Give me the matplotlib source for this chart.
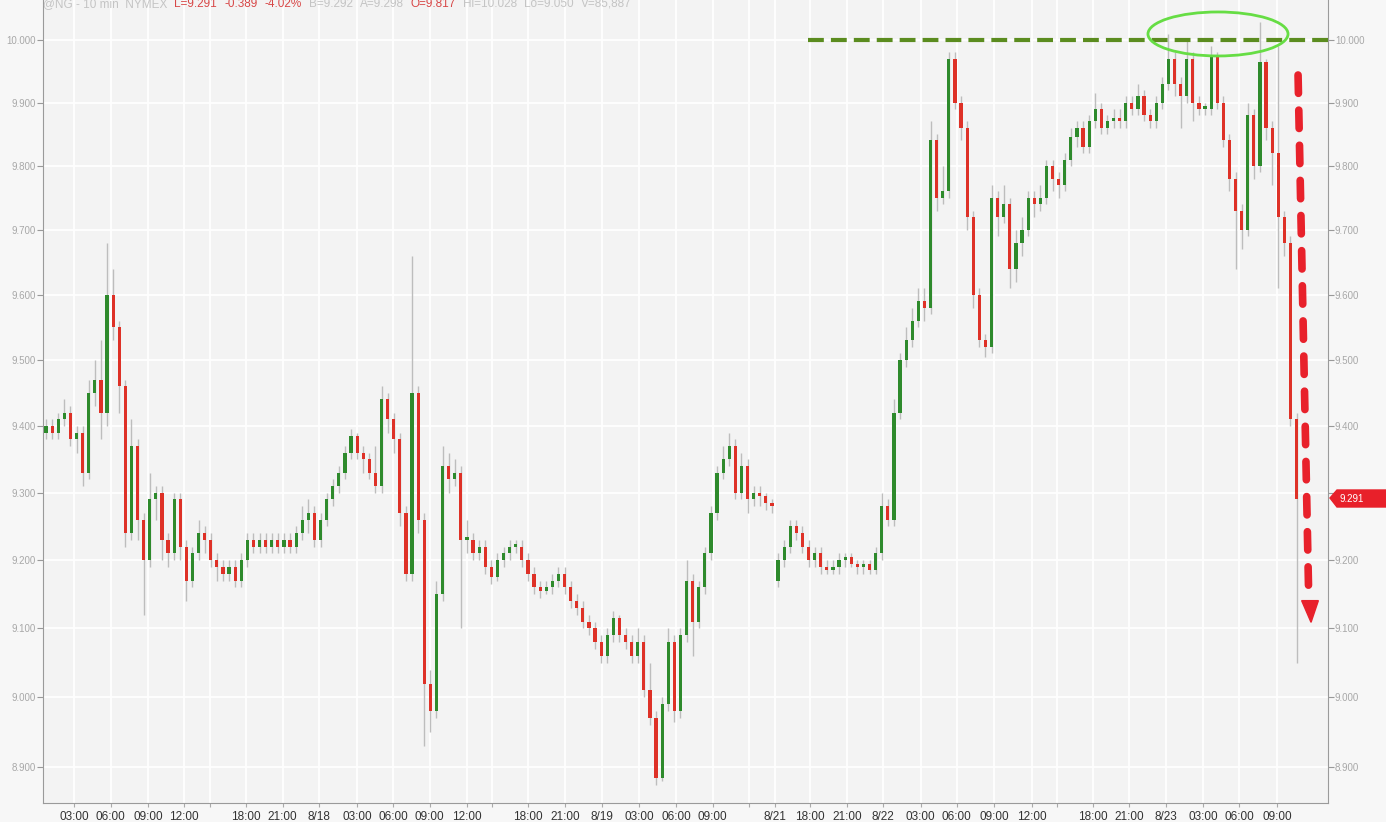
import matplotlib.pyplot as plt
import numpy as np
from matplotlib.patches import Ellipse, Polygon
from matplotlib.ticker import NullLocator, NullFormatter

plt.rcParams['font.family'] = ['Liberation Sans', 'DejaVu Sans']

# 30-min bars of @NG (10-min chart resampled by eye), 8/17 -> 8/23
closes = [9.40, 9.39, 9.41, 9.42, 9.38, 9.39, 9.33, 9.45, 9.47, 9.42,
          9.60, 9.55, 9.46, 9.24, 9.37, 9.26, 9.20, 9.29, 9.30, 9.23,
          9.21, 9.29, 9.22, 9.17, 9.21, 9.24, 9.23, 9.20, 9.19, 9.18,
          9.19, 9.17, 9.20, 9.23, 9.22, 9.23, 9.22, 9.23, 9.22, 9.23,
          9.22, 9.24, 9.26, 9.27, 9.23, 9.26, 9.29, 9.31, 9.33, 9.36,
          9.385, 9.36, 9.35, 9.33, 9.31, 9.44, 9.41, 9.38, 9.27, 9.18,
          9.45, 9.26, 9.02, 8.98, 9.15, 9.34, 9.32, 9.33, 9.23, 9.23,
          9.21, 9.22, 9.19, 9.175, 9.20, 9.21, 9.22, 9.22, 9.20, 9.18,
          9.16, 9.155, 9.16, 9.17, 9.18, 9.16, 9.14, 9.13, 9.11, 9.10,
          9.08, 9.06, 9.09, 9.115, 9.09, 9.08, 9.06, 9.08, 9.01, 8.97,
          8.885, 8.99, 9.08, 8.98, 9.09, 9.17, 9.11, 9.16, 9.21, 9.27,
          9.33, 9.35, 9.37, 9.30, 9.34, 9.29, 9.30, 9.295, 9.285, 9.28,
          9.20, 9.22, 9.25, 9.24, 9.22, 9.20, 9.21, 9.19, 9.185, 9.19,
          9.20, 9.205, 9.195, 9.19, 9.195, 9.185, 9.21, 9.28, 9.26, 9.42,
          9.50, 9.53, 9.56, 9.59, 9.58, 9.84, 9.75, 9.76, 9.97, 9.90,
          9.86, 9.72, 9.60, 9.53, 9.52, 9.75, 9.72, 9.74, 9.64, 9.68,
          9.70, 9.75, 9.74, 9.75, 9.80, 9.78, 9.77, 9.81, 9.845, 9.86,
          9.83, 9.87, 9.89, 9.86, 9.87, 9.875, 9.87, 9.90, 9.89, 9.91,
          9.88, 9.87, 9.90, 9.93, 9.97, 9.93, 9.91, 9.97, 9.90, 9.89,
          9.89, 9.975, 9.90, 9.84, 9.78, 9.73, 9.70, 9.88, 9.80, 9.965,
          9.86, 9.82, 9.72, 9.68, 9.41, 9.291]
highs = [9.41, 9.41, 9.42, 9.44, 9.43, 9.40, 9.40, 9.47, 9.50, 9.53,
         9.68, 9.64, 9.56, 9.47, 9.41, 9.38, 9.27, 9.33, 9.31, 9.31,
         9.24, 9.30, 9.30, 9.23, 9.22, 9.26, 9.25, 9.24, 9.21, 9.20,
         9.20, 9.20, 9.21, 9.24, 9.24, 9.24, 9.24, 9.24, 9.24, 9.24,
         9.24, 9.25, 9.28, 9.29, 9.28, 9.27, 9.30, 9.32, 9.34, 9.37,
         9.395, 9.39, 9.37, 9.36, 9.37, 9.46, 9.45, 9.42, 9.39, 9.28,
         9.66, 9.46, 9.27, 9.04, 9.17, 9.37, 9.36, 9.35, 9.34, 9.26,
         9.24, 9.23, 9.23, 9.20, 9.21, 9.22, 9.23, 9.23, 9.23, 9.21,
         9.19, 9.17, 9.17, 9.18, 9.19, 9.19, 9.17, 9.15, 9.14, 9.12,
         9.11, 9.09, 9.10, 9.125, 9.12, 9.10, 9.09, 9.10, 9.09, 9.05,
         8.98, 9.00, 9.10, 9.09, 9.10, 9.20, 9.18, 9.17, 9.22, 9.28,
         9.34, 9.37, 9.39, 9.38, 9.36, 9.35, 9.31, 9.31, 9.30, 9.29,
         9.21, 9.23, 9.26, 9.26, 9.25, 9.23, 9.22, 9.22, 9.20, 9.20,
         9.21, 9.21, 9.21, 9.20, 9.20, 9.20, 9.22, 9.30, 9.29, 9.44,
         9.51, 9.55, 9.58, 9.61, 9.61, 9.87, 9.85, 9.80, 9.98, 9.98,
         9.91, 9.87, 9.73, 9.61, 9.54, 9.77, 9.76, 9.77, 9.75, 9.70,
         9.72, 9.76, 9.76, 9.77, 9.81, 9.81, 9.79, 9.82, 9.86, 9.87,
         9.87, 9.88, 9.915, 9.90, 9.88, 9.89, 9.89, 9.91, 9.91, 9.93,
         9.92, 9.89, 9.91, 9.94, 10.01, 9.98, 9.94, 10.00, 9.98, 9.91,
         9.90, 9.99, 9.98, 9.91, 9.85, 9.79, 9.74, 9.90, 9.89, 10.028,
         9.97, 9.87, 9.99, 9.73, 9.69, 9.42]
lows = [9.38, 9.38, 9.38, 9.40, 9.37, 9.36, 9.31, 9.32, 9.43, 9.38,
        9.40, 9.53, 9.42, 9.22, 9.23, 9.23, 9.12, 9.19, 9.26, 9.20,
        9.19, 9.20, 9.20, 9.14, 9.16, 9.20, 9.21, 9.19, 9.17, 9.17,
        9.17, 9.16, 9.16, 9.19, 9.21, 9.21, 9.21, 9.21, 9.21, 9.21,
        9.21, 9.21, 9.23, 9.24, 9.22, 9.22, 9.25, 9.28, 9.30, 9.32,
        9.35, 9.35, 9.33, 9.32, 9.30, 9.30, 9.39, 9.36, 9.25, 9.17,
        9.17, 9.24, 8.93, 8.95, 8.97, 9.14, 9.30, 9.31, 9.10, 9.21,
        9.20, 9.20, 9.18, 9.165, 9.17, 9.19, 9.20, 9.21, 9.19, 9.17,
        9.15, 9.145, 9.15, 9.15, 9.16, 9.15, 9.13, 9.12, 9.10, 9.09,
        9.07, 9.05, 9.05, 9.08, 9.08, 9.07, 9.05, 9.05, 9.00, 8.96,
        8.875, 8.88, 8.98, 8.965, 8.97, 9.08, 9.06, 9.10, 9.15, 9.20,
        9.26, 9.32, 9.34, 9.29, 9.29, 9.27, 9.28, 9.28, 9.275, 9.27,
        9.16, 9.19, 9.21, 9.23, 9.21, 9.19, 9.19, 9.18, 9.18, 9.18,
        9.18, 9.19, 9.19, 9.18, 9.18, 9.18, 9.18, 9.20, 9.25, 9.25,
        9.41, 9.49, 9.52, 9.55, 9.56, 9.57, 9.73, 9.74, 9.75, 9.89,
        9.84, 9.70, 9.58, 9.52, 9.505, 9.51, 9.69, 9.71, 9.61, 9.62,
        9.66, 9.69, 9.72, 9.73, 9.74, 9.76, 9.75, 9.76, 9.80, 9.83,
        9.82, 9.82, 9.86, 9.85, 9.85, 9.86, 9.86, 9.86, 9.88, 9.88,
        9.87, 9.86, 9.86, 9.89, 9.92, 9.91, 9.86, 9.90, 9.87, 9.88,
        9.88, 9.88, 9.89, 9.83, 9.76, 9.64, 9.67, 9.69, 9.78, 9.79,
        9.84, 9.77, 9.61, 9.66, 9.40, 9.05]
first_open = 9.39
gap_bar = 120          # Sunday re-open after the weekend
gap_open = 9.17

tick_pos = [4.6, 10.6, 16.7, 22.6, 26.9, 32.8, 38.8, 44.7, 51.0, 56.9, 62.9,
            69.0, 73.1, 79.0, 85.1, 91.1, 97.2, 103.3, 109.3, 115.2, 119.5,
            125.2, 131.3, 137.2, 143.4, 149.3, 155.4, 161.6, 165.7, 171.6,
            177.5, 183.6, 189.7, 195.6, 201.8]
tick_lab = ['03:00', '06:00', '09:00', '12:00', '', '18:00', '21:00', '8/18',
            '03:00', '06:00', '09:00', '12:00', '', '18:00', '21:00', '8/19',
            '03:00', '06:00', '09:00', '', '8/21', '18:00', '21:00', '8/22',
            '03:00', '06:00', '09:00', '12:00', '', '18:00', '21:00', '8/23',
            '03:00', '06:00', '09:00']
price_ticks = [8.9, 9.0, 9.1, 9.2, 9.3, 9.4, 9.5, 9.6, 9.7, 9.8, 9.9, 10.0]
price_labels = ['8.900', '9.000', '9.100', '9.200', '9.300', '9.400',
                '9.500', '9.600', '9.700', '9.800', '9.900', '10.000']
last_price = 9.291
resistance = 10.0
header = [('@NG - 10 min  NYMEX', 'grey'), ('L=9.291', 'red'), ('-0.389', 'red'),
          ('-4.02%', 'red'), ('B=9.292', 'grey'), ('A=9.298', 'grey'),
          ('O=9.817', 'red'), ('Hi=10.028', 'grey'), ('Lo=9.050', 'grey'),
          ('V=85,887', 'grey')]

c = np.array(closes)
o = np.r_[first_open, c[:-1]]
o[gap_bar] = gap_open
h = np.array(highs)
l = np.array(lows)
x = np.arange(len(c))
up = c >= o

fig = plt.figure(figsize=(13.86, 8.22), dpi=100, facecolor='#f7f7f7')
ax = fig.add_axes([43/1386, 19/822, 1285/1386, 803/822])
ax.set_facecolor('#f3f3f3')
ax.set_yscale('log')

ax.vlines(x, l, h, color='#bdbdbd', lw=1, zorder=2)
body = np.maximum(np.abs(c - o), 0.004)
ax.bar(x[up], body[up], bottom=o[up], width=0.52, color='#2e8a2c', lw=0, zorder=3)
ax.bar(x[~up], body[~up], bottom=c[~up], width=0.52, color='#de3127', lw=0, zorder=3)

ax.set_xlim(-0.5, 210.16)
ax.set_ylim(8.849, 10.064)

ax.set_yticks(price_ticks, labels=price_labels)
ax.yaxis.set_minor_locator(NullLocator())
ax.yaxis.set_minor_formatter(NullFormatter())
ax.set_xticks(tick_pos, labels=tick_lab)
ax.tick_params(axis='y', left=True, right=True, labelleft=True, labelright=True,
               length=4, color='#999999', labelcolor='#a8a8a8', labelsize=7, pad=1)
ax.tick_params(axis='x', length=3, color='#aaaaaa', labelcolor='#333333',
               labelsize=8.5, pad=3)
# the right-hand 9.300 label sits under the last-price tag
ax.yaxis.get_major_ticks()[price_ticks.index(9.3)].label2.set_visible(False)
ax.grid(True, color='white', lw=1.3, zorder=0)
ax.set_axisbelow(True)
for s in ['left', 'right', 'bottom']:
    ax.spines[s].set_color('#9a9a9a')
ax.spines['top'].set_visible(False)

# resistance line + circled double top
ax.plot([124.9, 211.0], [resistance, resistance], color='#5b8c1f', lw=3,
        dashes=(3.8, 1.7), clip_on=False, zorder=5)
ax.add_patch(Ellipse((0.9144, 0.9577), 0.109, 0.0548, transform=ax.transAxes,
                     fill=False, edgecolor='#66dd44', lw=2, zorder=6))

# red dashed down arrow
ax.plot([0.9767, 0.9850], [0.9066, 0.2560], transform=ax.transAxes,
        color='#e8212b', lw=5.5, dashes=(2.4, 2.2), dash_capstyle='round',
        clip_on=False, zorder=6)
ax.add_patch(Polygon([[0.9795, 0.2520], [0.9925, 0.2520], [0.9868, 0.2250]],
                     closed=True, transform=ax.transAxes, color='#e8212b',
                     clip_on=False, zorder=6))

# last price tag on the right axis
tag = Polygon([[1330/1386, 1 - 498/822], [1337/1386, 1 - 490/822],
               [1.0, 1 - 490/822], [1.0, 1 - 507/822], [1337/1386, 1 - 507/822]],
              closed=True, transform=fig.transFigure, color='#e8202a', zorder=10)
fig.patches.append(tag)
fig.text(1340/1386, 1 - 499/822, '%.3f' % last_price, color='white', fontsize=7,
         va='center', ha='left', zorder=11)

# header line (cut off at the top of the screenshot), pieces laid end to end
cols = {'grey': '#c4c4c4', 'red': '#d84848'}
renderer = fig.canvas.get_renderer()
px = 43
for txt, col in header:
    t = fig.text(px/1386, 1 - 7/822, txt, color=cols[col], fontsize=8.5,
                 va='baseline')
    px += t.get_window_extent(renderer).width + 7

plt.savefig('out.png', dpi=100, facecolor=fig.get_facecolor())
